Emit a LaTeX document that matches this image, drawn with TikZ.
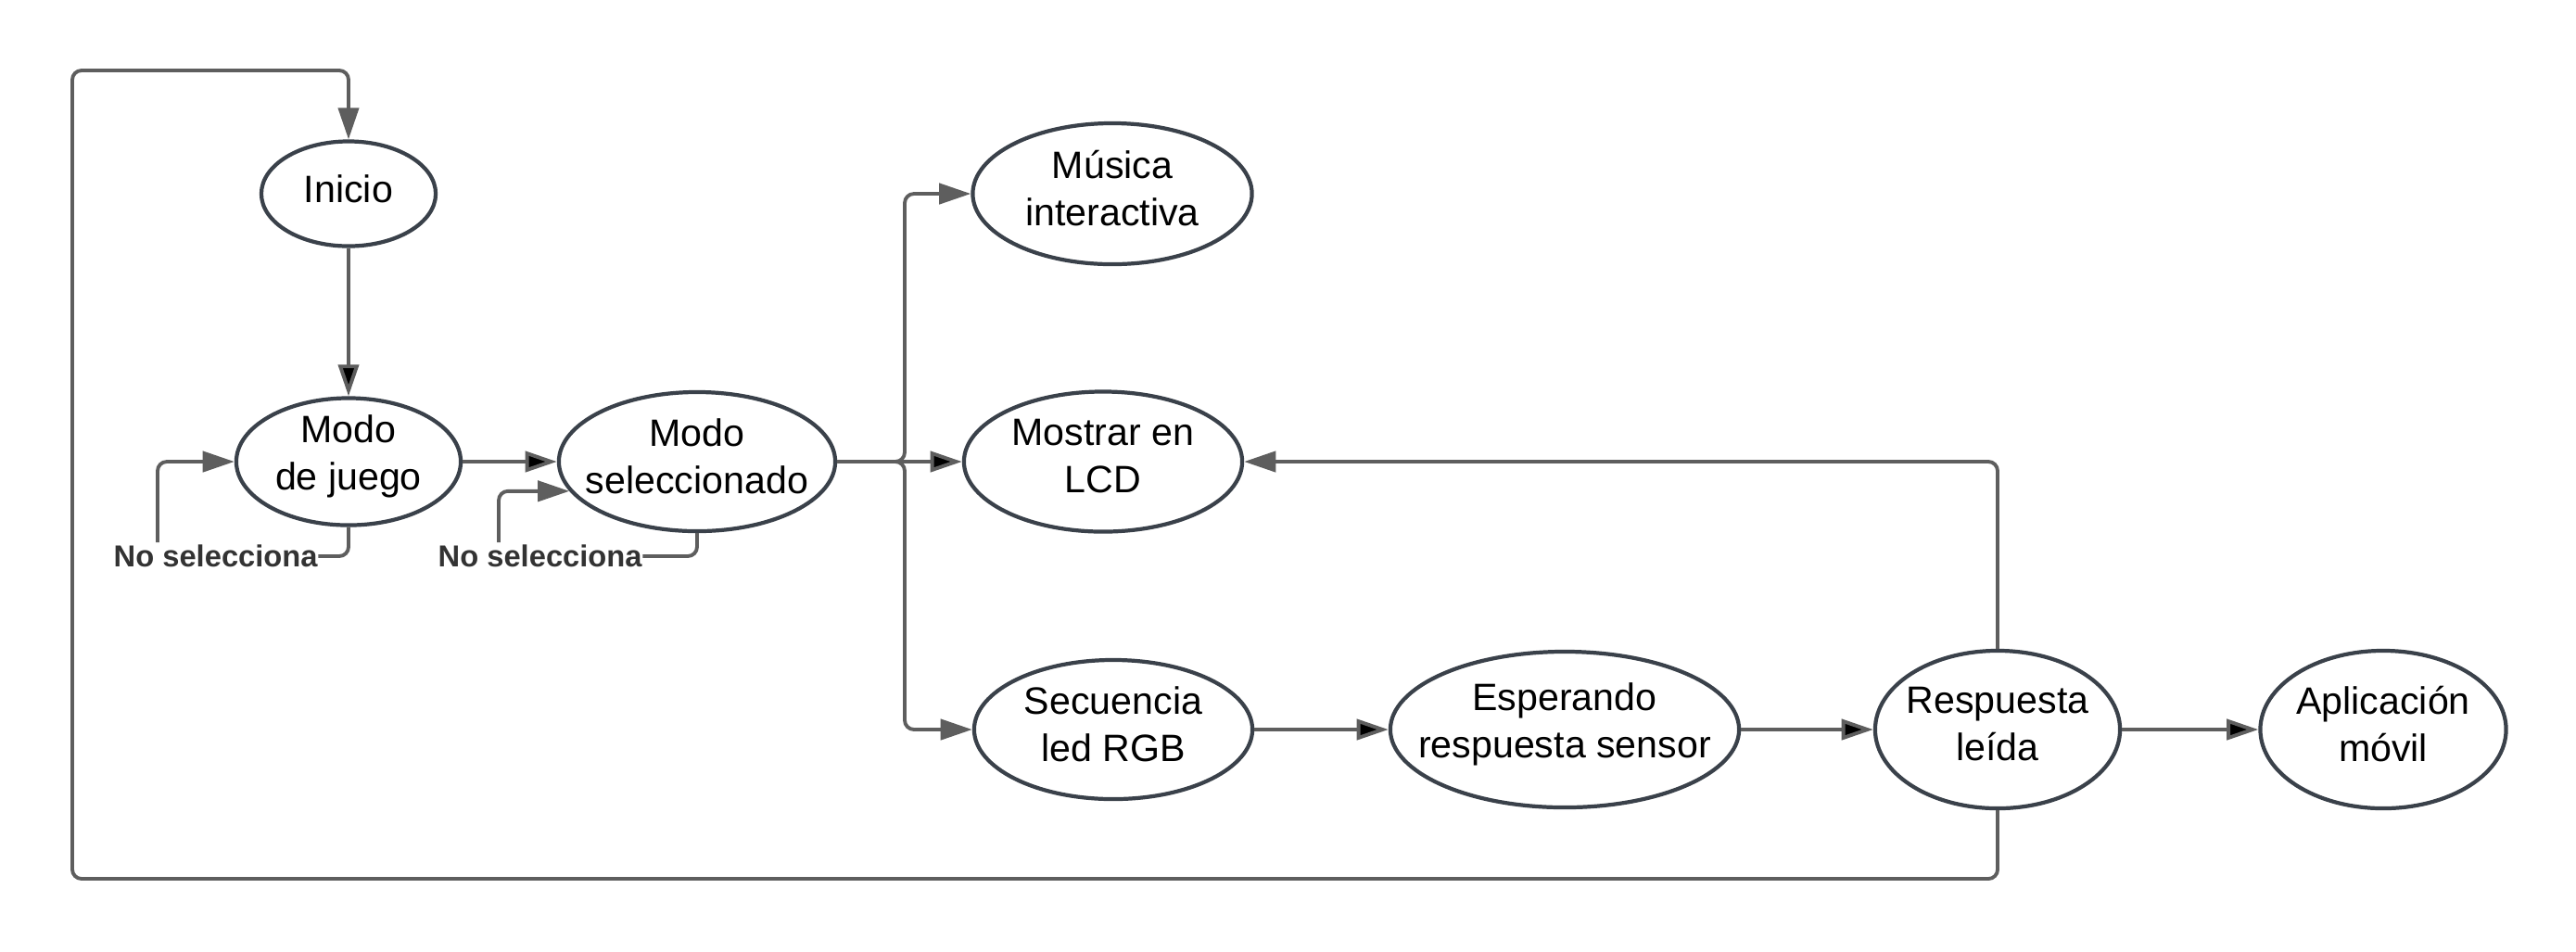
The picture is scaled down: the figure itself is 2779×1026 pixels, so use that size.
\documentclass[tikz,border=0pt]{standalone}
\usepackage{fontspec}
\setmainfont{Liberation Sans}
\usepackage{tikz}
\usetikzlibrary{shapes.geometric,arrows.meta}
\definecolor{linegray}{HTML}{5E5E5E}
\definecolor{nodegray}{HTML}{3A414A}
\definecolor{textgray}{HTML}{333333}

\begin{document}
\begin{tikzpicture}[x=0.01cm,y=-0.01cm,
	statetxt/.style={align=center,inner sep=0pt,yshift=0.055cm,font=\fontsize{11.7}{14.5}\selectfont},
	state/.style n args={3}{ellipse,draw=nodegray,line width=1.2pt,inner sep=0pt,
		minimum width=#1,minimum height=#2,label={[statetxt]center:#3}},
	nosel/.style={inner sep=0pt,anchor=west,text=textgray,font=\fontsize{9.3}{11}\selectfont\bfseries},
	conn/.style={draw=linegray,line width=1.1pt,rounded corners=0.1cm},
	arr/.style={conn,-{Stealth[length=9.7pt,width=6.3pt,inset=0pt]}}]
	\useasboundingbox (0,0) rectangle (2779,1026);
	% estados
	\node[state={1.88cm}{1.13cm}{Inicio}] (inicio) at (376,209) {};
	\node[state={2.42cm}{1.37cm}{Modo\\de juego}] (juego) at (376,498) {};
	\node[state={2.98cm}{1.50cm}{Modo\\seleccionado}] (modo) at (752,498) {};
	\node[state={3.01cm}{1.52cm}{Música\\interactiva}] (musica) at (1200,209) {};
	\node[state={3.00cm}{1.51cm}{Mostrar en\\LCD}] (lcd) at (1190,498) {};
	\node[state={3.00cm}{1.50cm}{Secuencia\\led RGB}] (rgb) at (1201,787) {};
	\node[state={3.76cm}{1.68cm}{Esperando\\respuesta sensor}] (espera) at (1688,787) {};
	\node[state={2.64cm}{1.70cm}{Respuesta\\leída}] (resp) at (2155,787) {};
	\node[state={2.65cm}{1.70cm}{Aplicación\\móvil}] (app) at (2571,787) {};
	\node[nosel] (nosel1) at (122,600) {No selecciona};
	\node[nosel] (nosel2) at (472,600) {No selecciona};
	\coordinate (up1) at (170,585);
	\coordinate (up2) at (538,585);
	\coordinate (bus) at (976,498);
	\coordinate (loopb) at (78,948);
	\coordinate (loopt) at (78,76);
	% conexiones
	\path[arr]
	(inicio) edge (juego)
	(juego) edge (modo)
	(modo) edge (lcd)
	(rgb) edge (espera)
	(espera) edge (resp)
	(resp) edge (app);
	\draw[conn] (juego.south) |- (nosel1.east);
	\draw[arr] (up1) |- (juego.west);
	\draw[conn] (modo.south) |- (nosel2.east);
	\draw[arr] (up2) |- (modo.193);
	\draw[arr] (modo.east) -- (bus) |- (musica.west);
	\draw[arr] (modo.east) -- (bus) |- (rgb.west);
	\draw[arr] (resp.north) |- (lcd.east);
	\draw[arr] (resp.south) |- (loopb) -- (loopt) -| (inicio.north);
\end{tikzpicture}
\end{document}
